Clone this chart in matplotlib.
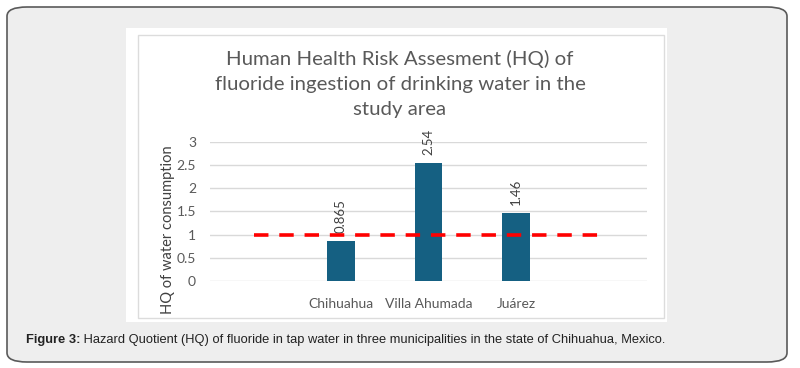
import matplotlib
matplotlib.use("Agg")
import matplotlib.pyplot as plt
from matplotlib.patches import FancyBboxPatch, Rectangle

categories = ["", "Chihuahua", "Villa Ahumada", "Juárez", ""]
hq_values = [None, 0.865, 2.54, 1.46, None]
value_labels = ["", "0.865", "2.54", "1.46", ""]
threshold = [1, 1, 1, 1, 1]
y_ticks = [0, 0.5, 1, 1.5, 2, 2.5, 3]
y_tick_labels = ["0", "0.5", "1", "1.5", "2", "2.5", "3"]
title = "Human Health Risk Assesment (HQ) of\nfluoride ingestion of drinking water in the\nstudy area"
y_label = "HQ of water consumption"
caption_bold = "Figure 3:"
caption_rest = " Hazard Quotient (HQ) of fluoride in tap water in three municipalities in the state of Chihuahua, Mexico."

W, H = 800, 368
fig = plt.figure(figsize=(W / 100, H / 100), dpi=100)
fig.patch.set_facecolor("white")

def fx(px):
    return px / W

def fy(py):
    return 1 - py / H

# outer rounded panel
panel = FancyBboxPatch((fx(7), fy(362)), fx(780), (355) / H,
                       boxstyle="round,pad=0,rounding_size=0.025",
                       transform=fig.transFigure, facecolor="#eeeeee",
                       edgecolor="#5a5a5a", linewidth=1.2, zorder=0)
fig.patches.append(panel)
# white chart image
fig.patches.append(Rectangle((fx(126), fy(322)), fx(541), 294 / H,
                             transform=fig.transFigure, facecolor="white",
                             edgecolor="none", zorder=0.5))
fig.patches.append(Rectangle((fx(138), fy(318)), fx(526), 283 / H,
                             transform=fig.transFigure, facecolor="none",
                             edgecolor="#dcdcdc", linewidth=1.0, zorder=0.6))

ax = fig.add_axes([fx(210), fy(281), fx(437), (281 - 141.7) / H])
ax.set_zorder(3)
ax.set_facecolor("none")
xs = list(range(len(categories)))
bar_x = [x for x, v in zip(xs, hq_values) if v is not None]
bar_v = [v for v in hq_values if v is not None]
bars = ax.bar(bar_x, bar_v, width=0.32, color="#156082", zorder=2)
for x, v, lab in zip(xs, hq_values, value_labels):
    if v is not None:
        ax.annotate(lab, (x, v), xytext=(0, 6), textcoords="offset points",
                    rotation=90, ha="center", va="bottom", fontsize=9.5,
                    color="#404040", family="Lato")
ax.plot(xs, threshold, color="#ff0000", linestyle=(0, (4, 3)), linewidth=2.6, zorder=3)

ax.set_xlim(-0.5, len(categories) - 0.5)
ax.set_ylim(0, 3)
ax.set_yticks(y_ticks)
ax.set_yticklabels(y_tick_labels)
ax.set_xticks(xs)
ax.set_xticklabels(categories)
ax.grid(axis="y", color="#d9d9d9", linewidth=1.0, zorder=0)
for s in ax.spines.values():
    s.set_visible(False)
ax.tick_params(axis="both", length=0, colors="#595959", labelsize=10)
ax.tick_params(axis="y", pad=10)
ax.tick_params(axis="x", pad=12)
for t in ax.get_xticklabels() + ax.get_yticklabels():
    t.set_family("Lato")

fig.text(fx(168), fy(230), y_label, rotation=90, ha="center", va="center",
         fontsize=10.5, color="#404040", family="Lato", zorder=4)
fig.text(fx(400), fy(84), title, ha="center", va="center", fontsize=14.7,
         color="#595959", family="Lato", linespacing=1.6, zorder=4)

t1 = fig.text(fx(26), fy(340), caption_bold, ha="left", va="center",
              fontsize=9.3, fontweight="bold", color="#222222", family="Liberation Sans", zorder=4)
fig.canvas.draw()
bb = t1.get_window_extent()
fig.text(bb.x1 / W, fy(340), caption_rest, ha="left", va="center",
         fontsize=9.3, color="#222222", family="Liberation Sans", zorder=4)

fig.savefig("out.png", dpi=100)
